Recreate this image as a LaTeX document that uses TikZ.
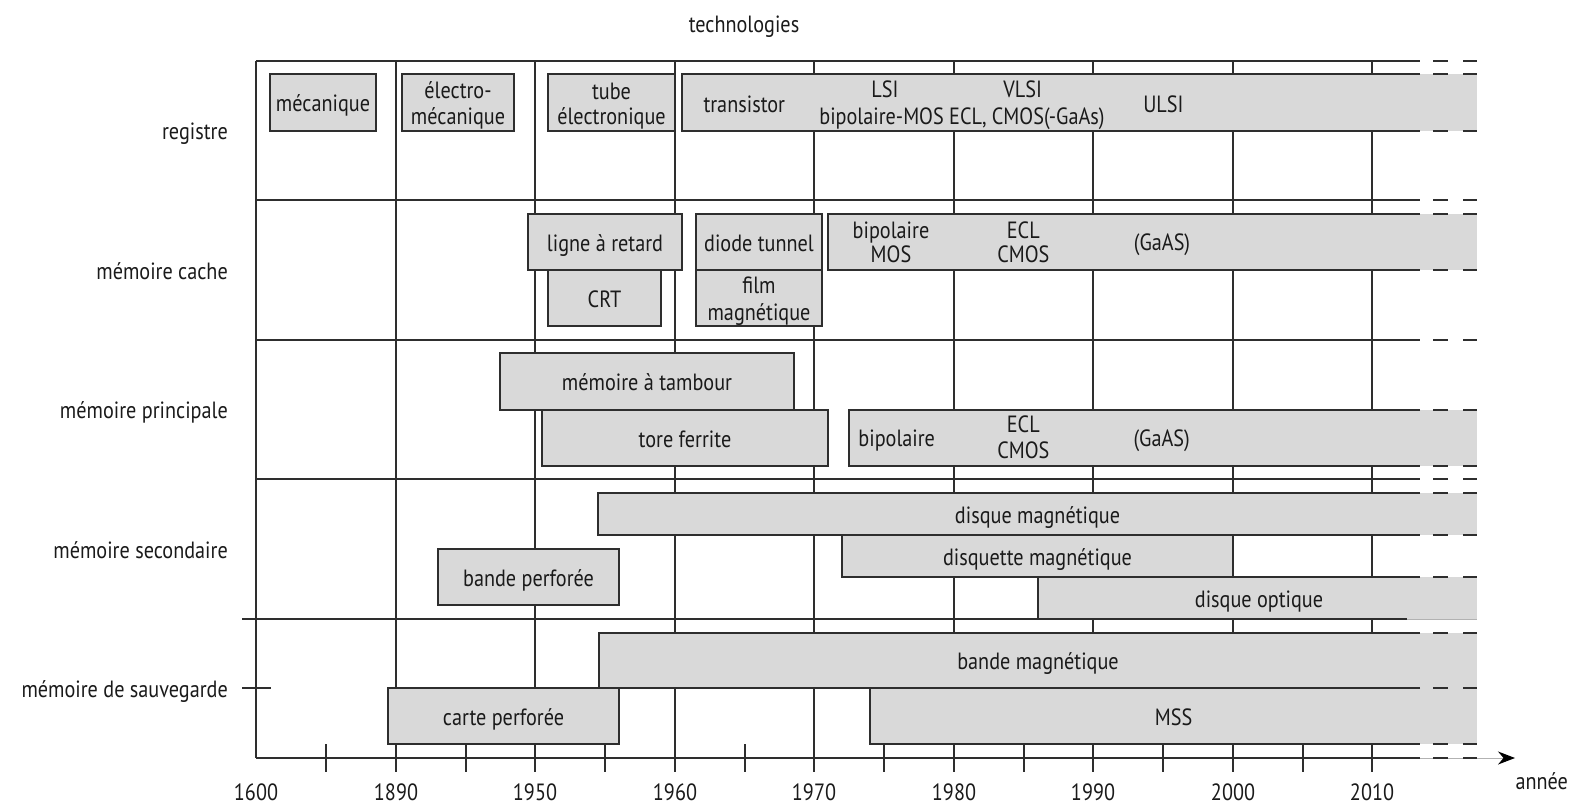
\documentclass[tikz,border=0pt]{standalone}
\usepackage{fontspec}
\setmainfont{PT Sans}[FakeStretch=0.86]
\usetikzlibrary{arrows.meta}
\definecolor{boxgray}{HTML}{D9D9D9}
\definecolor{linec}{HTML}{2E2E2E}
\definecolor{txtc}{HTML}{1A1A1A}
\tikzset{
  gridline/.style={draw=linec, line width=2pt},
  bx/.style={draw=linec, fill=boxgray, line width=2pt, inner sep=0pt},
  txt/.style={inner sep=0pt, text=txtc, text height=20pt, text depth=2pt,
              font=\fontsize{23.5}{26.4}\selectfont},
  fadeline/.style={draw=black!30, line width=1pt}
}
% closed box: name, x1, y1, x2, y2, text
\newcommand\cbox[6]{%
  \node[bx, txt, text=txtc, minimum width={(#4-#2)*1pt}, minimum height={(#5-#3)*1pt}]
    (#1) at ({(#2+#4)/2},{(#3+#5)/2}) {#6};}
% dashed right end of a horizontal line
\newcommand\tailseg[1]{\draw[gridline] (1433,#1) -- (1448,#1) (1463,#1) -- (1477,#1);}
% open box running to the right edge: name, x1, y1, y2
\newcommand\obox[4]{%
  \fill[boxgray] (#2,#3) rectangle (1477,#4);
  \draw[gridline, line join=miter] (1420,#3) -- (#2,#3) -- (#2,#4) -- (1420,#4);
  \tailseg{#3}\tailseg{#4}
  \coordinate (#1) at ({(#2+1477)/2},{(#3+#4)/2});}
\begin{document}
\begin{tikzpicture}[x=1pt,y=-1pt]
\useasboundingbox (0,0) rectangle (1589,806);

% title
\node[txt] (title) at (744,23) {technologies};

% vertical grid lines
\draw[gridline] (256,61) -- (256,758);
\foreach \xx in {396,535,675,814,954,1093,1233,1372}
  \draw[gridline] (\xx,61) -- (\xx,772);

% horizontal row lines
\foreach \yy in {61,200,340,479}{
  \draw[gridline] (256,\yy) -- (1420,\yy);
  \tailseg{\yy}
}
\draw[gridline] (242,619) -- (1407,619);
\draw[fadeline] (1407,619) -- (1477,619);
\draw[gridline] (242,688) -- (271,688);

% axis
\draw[fadeline, -{Stealth[length=17pt,width=13pt,black]}] (1420,758) -- (1515,758);
\draw[gridline] (256,758) -- (1420,758);
\tailseg{758}
\foreach \xx in {326,466,605,745,884,1024,1163,1303}
  \draw[gridline] (\xx,744) -- ++(0,28);
\foreach \lab/\xx [count=\i] in {1600/256,1890/396,1950/535,1960/675,1970/814,1980/954,1990/1093,2000/1233,2010/1372}
  \node[txt] (yr\i) at (\xx,791) {\lab};
\node[txt] (annee) at (1541.7,780) {année};

% row labels
\node[txt, anchor=east] (rreg) at (228,130.3) {registre};
\node[txt, anchor=east] (rcache) at (228,270) {mémoire cache};
\node[txt, anchor=east] (rprin) at (228,409.3) {mémoire principale};
\node[txt, anchor=east] (rsec) at (228,549) {mémoire secondaire};
\node[txt, anchor=east] (rsauv) at (228,688.3) {mémoire de sauvegarde};

% ---- registre
\cbox{meca}{270}{74}{376}{131}{mécanique}
\cbox{elec}{402}{74}{514}{131}{}
\node[txt] (elecA) at (458,89.3) {électro-};
\node[txt] (elecB) at (458,115.7) {mécanique};
\cbox{tube}{548}{74}{675}{131}{}
\node[txt] (tubeA) at (611.5,90) {tube};
\node[txt] (tubeB) at (611.5,115.7) {électronique};
\obox{trans}{682}{74}{131}
\node[txt] (transA) at (744.3,103) {transistor};
\node[txt] (lsi) at (885,88) {LSI};
\node[txt] (vlsi) at (1022.7,88) {VLSI};
\node[txt] (techs) at (962,115.7) {bipolaire-MOS ECL, CMOS(-GaAs)};
\node[txt] (ulsi) at (1163.4,103) {ULSI};

% ---- mémoire cache
\cbox{crt}{548}{270}{661}{326}{CRT}
\cbox{ligne}{528}{214}{682}{270}{ligne à retard}
\cbox{film}{696}{270}{822}{326}{}
\node[txt] (filmA) at (759,284.3) {film};
\node[txt] (filmB) at (759,311.7) {magnétique};
\cbox{diode}{696}{214}{822}{270}{diode tunnel}
\obox{cbip}{828}{214}{270}
\node[txt] (cbipA) at (891,229) {bipolaire};
\node[txt] (cbipB) at (891,253.3) {MOS};
\node[txt] (ceclA) at (1023.3,229) {ECL};
\node[txt] (ceclB) at (1023.3,253.3) {CMOS};
\node[txt] (cgaas) at (1162,241.5) {(GaAS)};

% ---- mémoire principale
\cbox{tamb}{500}{353}{794}{410}{mémoire à tambour}
\cbox{tore}{542}{410}{828}{466}{tore ferrite}
\obox{pbip}{849}{410}{466}
\node[txt] (pbipA) at (896.7,437.3) {bipolaire};
\node[txt] (peclA) at (1023.3,423.3) {ECL};
\node[txt] (peclB) at (1023.3,449.3) {CMOS};
\node[txt] (pgaas) at (1161.7,437.3) {(GaAS)};

% ---- mémoire secondaire
\obox{dmag}{598}{493}{535}
\node[txt] (dmagT) at (dmag) {disque magnétique};
\cbox{dsqt}{842}{535}{1233}{577}{disquette magnétique}
\fill[boxgray] (1038,577) rectangle (1477,619);
\draw[gridline] (1420,577) -- (1038,577) -- (1038,619) -- (1407,619);
\draw[fadeline] (1407,619) -- (1477,619);
\tailseg{577}
\coordinate (dopt) at (1259,598);
\node[txt] (doptT) at (dopt) {disque optique};
\cbox{bperf}{438}{549}{619}{605}{bande perforée}

% ---- mémoire de sauvegarde
\obox{bmag}{599}{633}{688}
\node[txt] (bmagT) at (bmag) {bande magnétique};
\cbox{carte}{388}{688}{619}{744}{carte perforée}
\obox{mss}{870}{688}{744}
\node[txt] (mssT) at (mss) {MSS};
\end{tikzpicture}
\end{document}
